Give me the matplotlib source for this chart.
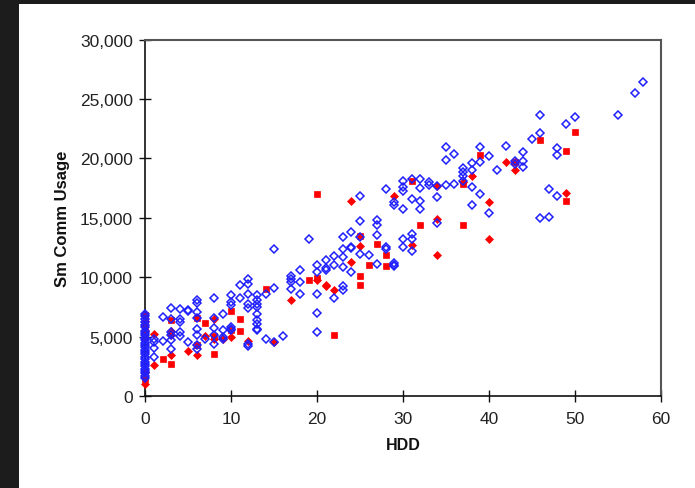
import matplotlib
matplotlib.use("Agg")
import matplotlib.pyplot as plt
from matplotlib.patches import Rectangle
from matplotlib.ticker import FuncFormatter

plt.rcParams['font.family'] = ['Liberation Sans', 'DejaVu Sans']

# ---- data (HDD, usage) ----
blue_hdd = ([0] * 27 +
            [1, 1, 1, 1,
             2, 2,
             3, 3, 3, 3, 3, 3,
             4, 4, 4, 4, 4,
             5, 5, 5,
             6, 6, 6, 6, 6, 6, 6, 6,
             7,
             8, 8, 8, 8, 8,
             9, 9, 9, 9,
             10, 10, 10, 10, 10, 10,
             11, 11,
             12, 12, 12, 12, 12, 12, 12,
             13, 13, 13, 13, 13, 13, 13, 13, 13,
             14, 14,
             15, 15, 15,
             16,
             17, 17, 17, 17,
             18, 18, 18,
             19,
             20, 20, 20, 20, 20,
             21, 21, 21,
             22, 22, 22,
             23, 23, 23, 23, 23, 23,
             24, 24, 24, 24,
             25, 25, 25, 25,
             26,
             27, 27, 27, 27,
             28, 28, 28,
             29, 29, 29, 29, 29,
             30, 30, 30, 30, 30, 30,
             31, 31, 31, 31, 31,
             32, 32, 32, 32,
             33, 33,
             34, 34, 34,
             35, 35, 35,
             36, 36,
             37, 37, 37, 37,
             38, 38, 38, 38,
             39, 39, 39,
             40, 40,
             41,
             42,
             43, 43,
             44, 44, 44,
             45,
             46, 46, 46,
             47, 47,
             48, 48, 48,
             49,
             50,
             55,
             57,
             58])
blue_use = ([6900, 6700, 6500, 6200, 6000, 5800, 5500, 5300, 5100, 4900,
             4700, 4500, 4300, 4100, 3900, 3700, 3500, 3300, 3100, 2900,
             2700, 2500, 2300, 2100, 1900, 1700, 1500] +
            [4800, 4550, 4000, 3300,
             6650, 4600,
             7430, 6500, 5380, 5100, 4680, 3980,
             7290, 6500, 6220, 5380, 5050,
             7200, 7120, 4540,
             8050, 7850, 7070, 6590, 5660, 5100, 4260, 3980,
             4820,
             8240, 6560, 5720, 5100, 4400,
             6920, 5520, 4960, 4820,
             8520, 7900, 7630, 5800, 5660, 5520,
             9310, 8240,
             9870, 9450, 8600, 7770, 7400, 4400, 4200,
             8520, 8050, 7770, 7490, 6920, 6360, 6080, 5660, 5520,
             8600, 4770,
             12340, 9080, 4540,
             5050,
             10090, 9870, 9640, 9030,
             10650, 9590, 8600,
             13230,
             11050, 10430, 8600, 6980, 5380,
             11410, 10770, 10570,
             11770, 10990, 8240,
             13370, 12390, 11690, 10850, 9250, 8890,
             13790, 12530, 12450, 10430,
             16880, 14770, 13370, 11970,
             11890,
             14860, 14410, 13570, 11130,
             17440, 12530, 12390,
             16320, 16090, 11210, 11050, 10910,
             18140, 17580, 17240, 15760, 13230, 12530,
             18280, 16600, 13650, 13180, 12170,
             18280, 17490, 16460, 15760,
             18050, 17770,
             17660, 16740, 14580,
             20940, 19900, 17800,
             20380, 17860,
             19180, 18900, 18560, 18140,
             19620, 19060, 17630, 16090,
             20940, 19680, 16990,
             20190, 15390,
             19060,
             21080,
             19820, 19540,
             20520, 19820, 19260,
             21640,
             23690, 22120, 14970,
             17440, 15050,
             20860, 20300, 16880,
             22900,
             23460,
             23690,
             25510,
             26410])

sq_hdd = [0, 0, 0, 0, 2, 3, 3, 6, 6, 7, 8, 8, 10, 10, 11, 11, 14, 19, 20, 20,
          22, 25, 25, 25, 26, 27, 28, 28, 31, 32, 37, 37, 39, 43, 46, 49, 49, 50]
sq_use = [6800, 5900, 5000, 1400, 3080, 6360, 2720, 6560, 4260, 6140, 5050, 3500,
          7150, 5520, 6450, 5440, 9030, 9780, 17020, 9920,
          5100, 13430, 10090, 9310, 11050, 12810, 11890, 10910, 18140, 14410,
          17860, 14410, 20300, 19680, 21580, 20660, 16460, 22260]

dm_hdd = [0, 0, 0, 0, 1, 1, 3, 3, 3, 5, 6, 7, 8, 8, 9, 10, 12, 15, 17, 20, 21, 21,
          22, 24, 24, 25, 29, 31, 34, 34, 34, 37, 38, 40, 40, 42, 43, 43, 49]
dm_use = [6300, 5500, 2000, 1000, 5240, 2580, 5440, 5100, 3420, 3760, 3480, 5050,
          6450, 4820, 4770, 4960, 4600, 4540, 8050, 9730, 9360, 9250,
          8890, 16460, 11270, 12620, 16820, 12730, 17660, 14910, 11890, 18050,
          18500, 16370, 13180, 19680, 19740, 19060, 17070]

x_ticks = [0, 10, 20, 30, 40, 50, 60]
y_ticks = [0, 5000, 10000, 15000, 20000, 25000, 30000]

# ---- figure ----
fig = plt.figure(figsize=(6.95, 4.89), dpi=100)
fig.patch.set_facecolor('white')
dark = '#1c1c1c'
fig.patches.append(Rectangle((0, 0), 19 / 695, 1, transform=fig.transFigure,
                             facecolor=dark, edgecolor='none', zorder=-10))
fig.patches.append(Rectangle((0, 1 - 5 / 489), 1, 5 / 489, transform=fig.transFigure,
                             facecolor=dark, edgecolor='none', zorder=-10))

ax = fig.add_axes([145.4 / 695, 1 - 397 / 489, (660.5 - 145.4) / 695, (397 - 40.7) / 489])

ax.plot(sq_hdd, sq_use, linestyle='none', marker='s', markersize=5,
        markerfacecolor='#ff0000', markeredgecolor='#ff0000', markeredgewidth=0.5,
        clip_on=False, zorder=3)
ax.plot(dm_hdd, dm_use, linestyle='none', marker='D', markersize=4.3,
        markerfacecolor='#ff0000', markeredgecolor='#ff0000', markeredgewidth=0.5,
        clip_on=False, zorder=3)
ax.plot(blue_hdd, blue_use, linestyle='none', marker='D', markersize=3.7,
        markerfacecolor='none', markeredgecolor='#2020ff', markeredgewidth=1.1,
        clip_on=False, zorder=4)

ax.set_xlim(0, 60)
ax.set_ylim(0, 30000)
ax.set_xticks(x_ticks)
ax.set_yticks(y_ticks)
ax.yaxis.set_major_formatter(FuncFormatter(lambda v, p: f"{int(v):,}"))
ax.tick_params(direction='inout', length=8, width=1, colors='#111111',
               labelsize=12.5, labelcolor='#222222')
ax.tick_params(axis='y', pad=5)
ax.tick_params(axis='x', pad=7)

for s in ['left', 'bottom']:
    ax.spines[s].set_color('#111111')
    ax.spines[s].set_linewidth(1.2)
for s in ['top', 'right']:
    ax.spines[s].set_color('#555555')
    ax.spines[s].set_linewidth(1.5)

ax.set_xlabel('HDD', fontsize=11.5, fontweight='bold', color='#111111', labelpad=8)
ax.set_ylabel('Sm Comm Usage', fontsize=12, fontweight='bold', color='#111111', labelpad=7)

fig.savefig('out.png', dpi=100)
